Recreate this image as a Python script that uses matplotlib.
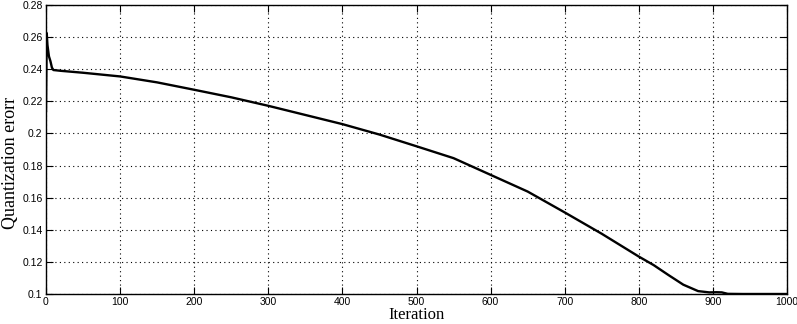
import numpy as np
import matplotlib.pyplot as plt

iteration = [0, 1, 2, 4, 6, 8, 10, 20, 50, 100, 150, 200, 250, 300, 350, 400, 450, 500,
             550, 600, 650, 700, 750, 800, 820, 840, 860, 880, 895, 905, 912, 920, 940, 1000]
qerror = [0.214, 0.2625, 0.255, 0.248, 0.245, 0.241, 0.2395, 0.2390, 0.2378, 0.2355, 0.2318,
          0.2272, 0.2225, 0.2172, 0.2115, 0.2058, 0.1993, 0.1920, 0.1846, 0.1742, 0.1638,
          0.1508, 0.1375, 0.1233, 0.1180, 0.1118, 0.1058, 0.1018, 0.1010, 0.1011, 0.1010,
          0.1001, 0.1000, 0.1000]
yticks = [0.1, 0.12, 0.14, 0.16, 0.18, 0.2, 0.22, 0.24, 0.26, 0.28]
ylabels = ["0.1", "0.12", "0.14", "0.16", "0.18", "0.2", "0.22", "0.24", "0.26", "0.28"]


def main():
    fig = plt.figure(figsize=(7.97, 3.24), dpi=100)
    ax = fig.add_axes([0.0577, 0.0926, 0.9298, 0.892])
    ax.plot(iteration, qerror, color="black", linewidth=1.7)
    ax.set_xlim(0, 1000)
    ax.set_ylim(0.1, 0.28)
    ax.set_xticks(np.arange(0, 1001, 100))
    ax.set_yticks(yticks)
    ax.set_yticklabels(ylabels)
    ax.grid(True, color="black", linestyle=(0, (1, 3)), linewidth=0.8)
    ax.tick_params(direction="in", length=5, width=0.8, labelsize=7.5, pad=2.5, top=True, right=True)
    for label in ax.get_xticklabels() + ax.get_yticklabels():
        label.set_family("Liberation Sans")
    for s in ax.spines.values():
        s.set_linewidth(1.0)
    ax.set_xlabel("Iteration", family="Liberation Serif", fontsize=12, labelpad=0)
    ax.set_ylabel("Quantization erorr", family="Liberation Serif", fontsize=13)
    ax.yaxis.set_label_coords(-0.037, 0.453)
    fig.savefig("out.png", dpi=100)


if __name__ == '__main__':
    main()
